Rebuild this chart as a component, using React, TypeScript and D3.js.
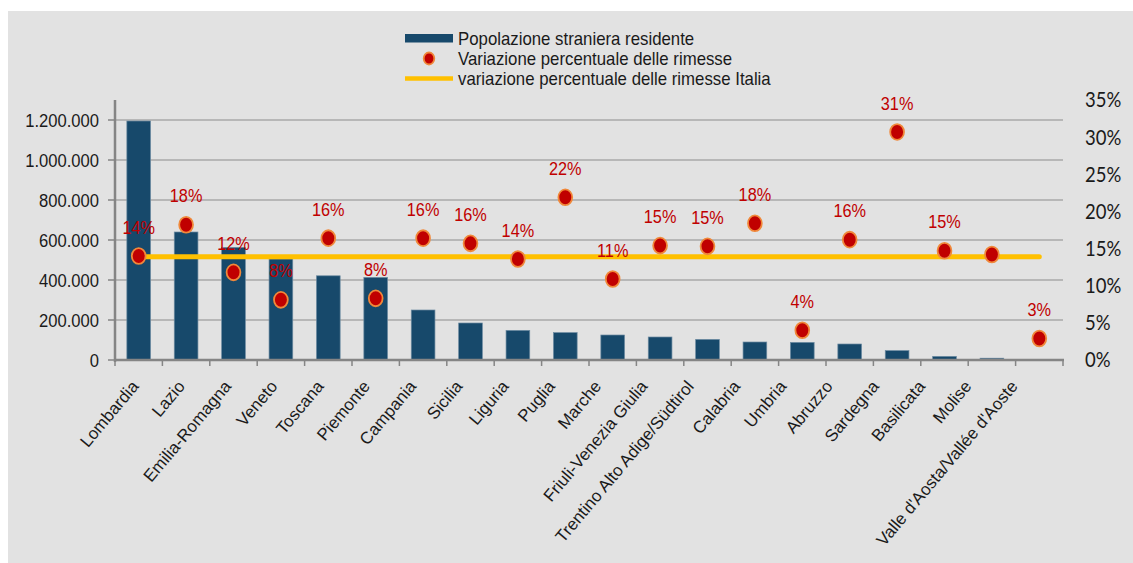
import * as d3 from "d3";

const regions = [
  "Lombardia", "Lazio", "Emilia-Romagna", "Veneto", "Toscana", "Piemonte",
  "Campania", "Sicilia", "Liguria", "Puglia", "Marche", "Friuli-Venezia Giulia",
  "Trentino Alto Adige/Südtirol", "Calabria", "Umbria", "Abruzzo", "Sardegna",
  "Basilicata", "Molise", "Valle d'Aosta/Vallée d'Aoste",
];
const population = [
  1195000, 640000, 563000, 505000, 421000, 413000, 250000, 185000, 148000, 137000,
  125000, 115000, 103000, 90000, 88000, 80000, 47000, 18000, 9000, 3000,
];
const remittanceChange = [
  14.0, 18.2, 11.8, 8.1, 16.4, 8.3, 16.4, 15.7, 13.6, 21.9,
  10.9, 15.4, 15.3, 18.4, 4.0, 16.2, 30.7, 14.7, 14.2, 2.9,
];
const changeLabels = [
  "14%", "18%", "12%", "8%", "16%", "8%", "16%", "16%", "14%", "22%",
  "11%", "15%", "15%", "18%", "4%", "16%", "31%", "15%", "", "3%",
];
const italyChange = 13.9;
const leftTicks = [0, 200000, 400000, 600000, 800000, 1000000, 1200000];
const rightTicks = [0, 5, 10, 15, 20, 25, 30, 35];
const legendLabels = [
  "Popolazione straniera residente",
  "Variazione percentuale delle rimesse",
  "variazione percentuale delle rimesse Italia",
];

const W = 1133, H = 563;
const plot = { left: 115, right: 1063, top: 100, bottom: 360 };
const font = "Arial, 'Liberation Sans', sans-serif";
const SY = 1.12; // the picture is a bit taller than wide
const barColor = "#17496b";
const dotFill = "#c00000";
const dotStroke = "#f0883a";
const lineColor = "#ffc000";
const axisColor = "#858585";
const gridColor = "#a9a9a9";
const textColor = "#1a1a1a";

const T = ({ x, y, anchor = "start", size = 16.5, fill = textColor, family = font, children }:
  { x: number; y: number; anchor?: string; size?: number; fill?: string; family?: string; children: any }) => (
  <text transform={`translate(${x},${y}) scale(1,${SY})`} textAnchor={anchor} dy="0.36em"
    fontFamily={family} fontSize={size} fill={fill}>{children}</text>
);

export default function App() {
  const x = d3.scaleBand<string>().domain(regions).range([plot.left, plot.right]);
  const labelX = d3.scalePoint<string>().domain(regions).range([135, 1014]);
  const yL = d3.scaleLinear().domain([0, 1300000]).range([plot.bottom, plot.top]);
  const yR = d3.scaleLinear().domain([0, 35]).range([plot.bottom, plot.top]);
  const bw = x.bandwidth() * 0.5;
  const cx = (r: string) => (x(r) ?? 0) + x.bandwidth() / 2;
  const fmt = (v: number) => d3.format(",")(v).replace(/,/g, ".");

  const italyLine = d3.line()([
    [cx(regions[0]), yR(italyChange)],
    [cx(regions[regions.length - 1]), yR(italyChange)],
  ]) ?? "";

  const bounds = regions.map((r) => x(r) ?? 0).concat([plot.right]);

  return (
    <svg width={W} height={H} style={{ position: "absolute", left: 0, top: 0 }}>
      <rect x={0} y={0} width={W} height={H} fill="#ffffff" />
      <rect x={8} y={11} width={W - 8} height={H - 11} fill="#e2e2e2" />

      {/* gridlines */}
      {leftTicks.filter((t) => t > 0).map((t) => (
        <line key={t} x1={plot.left} x2={plot.right} y1={yL(t)} y2={yL(t)} stroke={gridColor} strokeWidth={1.3} />
      ))}

      {/* bars */}
      {regions.map((r, i) => (
        <rect key={r} x={cx(r) - bw / 2} y={yL(population[i])} width={bw}
          height={plot.bottom - yL(population[i])} fill={barColor} stroke="#6d8ba1" strokeWidth={0.7} />
      ))}

      {/* left axis */}
      <line x1={plot.left} x2={plot.left} y1={plot.top} y2={plot.bottom + 2} stroke={axisColor} strokeWidth={2.5} />
      {leftTicks.map((t) => (
        <g key={t}>
          <line x1={plot.left - 7} x2={plot.left} y1={yL(t)} y2={yL(t)} stroke={axisColor} strokeWidth={1.5} />
          <T x={99} y={yL(t)} anchor="end" size={16.6}>{fmt(t)}</T>
        </g>
      ))}

      {/* x axis */}
      <line x1={plot.left - 1} x2={plot.right + 1} y1={plot.bottom} y2={plot.bottom} stroke={axisColor} strokeWidth={2.5} />
      {bounds.map((b, i) => (
        <line key={i} x1={b} x2={b} y1={plot.bottom} y2={plot.bottom + 6} stroke={axisColor} strokeWidth={1.5} />
      ))}
      {regions.map((r) => (
        <text key={r} transform={`translate(${labelX(r)},${plot.bottom + 23}) rotate(-50)`}
          textAnchor="end" dy="0.35em" fontFamily={font} fontSize={17} fill={textColor}>{r}</text>
      ))}

      {/* right axis labels */}
      {rightTicks.map((t) => (
        <T key={t} x={1085} y={yR(t)} size={18.5} family="Lato, 'Open Sans', sans-serif">{t}%</T>
      ))}

      {/* italy line */}
      <path d={italyLine} stroke={lineColor} strokeWidth={5} strokeLinecap="round" fill="none" />

      {/* dots */}
      {regions.map((r, i) => (
        <g key={r}>
          <ellipse cx={cx(r)} cy={yR(remittanceChange[i])} rx={6.9} ry={7.9} fill={dotFill} stroke={dotStroke} strokeWidth={1.8} />
          {changeLabels[i] && (
            <T x={cx(r)} y={yR(remittanceChange[i]) - 29} anchor="middle" size={16.3} fill={dotFill}>{changeLabels[i]}</T>
          )}
        </g>
      ))}

      {/* legend */}
      <rect x={405} y={34} width={48} height={8.5} fill={barColor} />
      <T x={458} y={38.5} size={16.8}>{legendLabels[0]}</T>
      <ellipse cx={429} cy={58.5} rx={5.3} ry={6} fill={dotFill} stroke={dotStroke} strokeWidth={1.8} />
      <T x={458} y={58.5} size={16.8}>{legendLabels[1]}</T>
      <line x1={405} x2={453} y1={78.5} y2={78.5} stroke={lineColor} strokeWidth={4.5} />
      <T x={458} y={78.5} size={16.8}>{legendLabels[2]}</T>
    </svg>
  );
}
